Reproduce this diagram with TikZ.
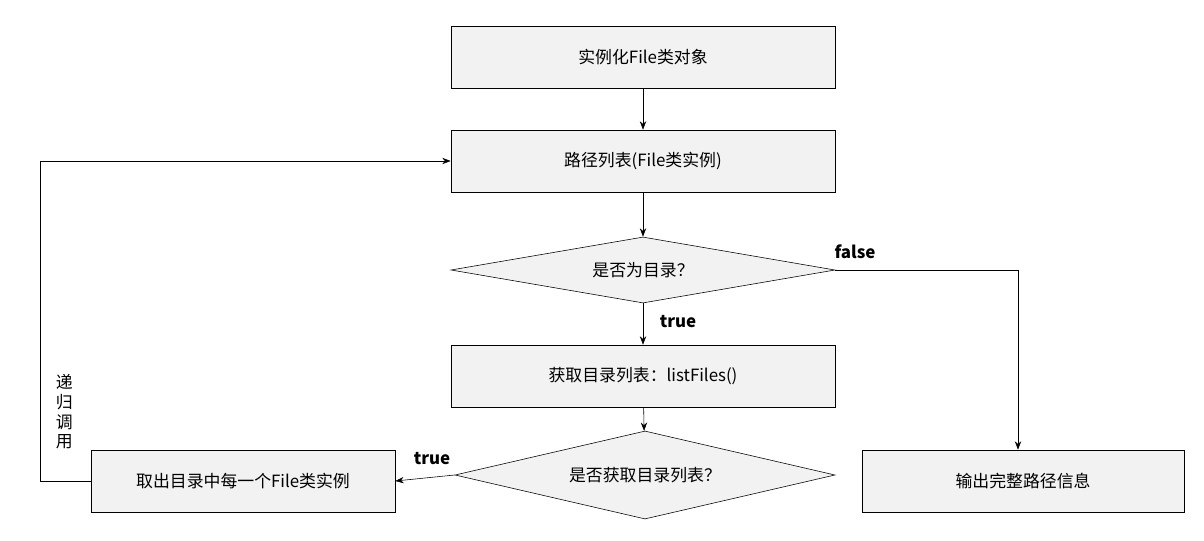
\documentclass[tikz,border=0pt]{standalone}
\usepackage{fontspec}
\setmainfont{Noto Sans CJK SC}
\usetikzlibrary{shapes.geometric,arrows.meta}
\definecolor{boxfill}{HTML}{F2F2F2}
\tikzset{
    proc/.style={draw, fill=boxfill, minimum height=1.55cm, font=\large},
    test/.style={draw, fill=boxfill, diamond, aspect=6, inner sep=0pt, font=\large},
    flow/.style={-{Stealth[length=6pt]}},
    tag/.style={font=\large\bfseries}
}
\begin{document}
\begin{tikzpicture}[x=0.025cm, y=-0.025cm]
    \useasboundingbox (0,0) rectangle (1204,540);
    \node[proc, minimum width=9.6cm] (new) at (643,57) {实例化File类对象};
    \node[proc, minimum width=9.6cm] (path) at (643,161) {路径列表(File类实例)};
    \node[test, minimum width=9.6cm, minimum height=1.65cm] (isdir) at (643,270) {是否为目录？};
    \node[proc, minimum width=9.6cm] (list) at (643,376) {获取目录列表：listFiles()};
    \node[test, minimum width=9.5cm, minimum height=2.2cm] (haslist) at (645,475) {是否获取目录列表？};
    \node[proc, minimum width=7.6cm] (each) at (243,481) {取出目录中每一个File类实例};
    \node[proc, minimum width=8.05cm] (out) at (1023,481) {输出完整路径信息};
    \coordinate (loopbot) at (40,481);
    \coordinate (looptop) at (40,161);
    \coordinate (turn) at (1018,270);
    % connectors
    \draw[flow] (new) -- (path);
    \draw[flow] (path) -- (isdir);
    \draw[flow] (isdir) -- (list);
    \draw[flow] (list) -- (haslist);
    \draw[flow] (haslist.west) -- (each.east);
    \draw[flow] (isdir.east) -- (turn) -- (out.north -| turn);
    \draw[flow] (each.west) -- (loopbot) -- (looptop) -- (path.west);
    % labels
    \node[tag] (t1) at (678,322) {true};
    \node[tag] (t2) at (432,459) {true};
    \node[tag] (f1) at (855,252) {false};
    \node[font=\large, align=center, inner sep=0pt, text width=1em] (rec) at (63,412) {递\\归\\调\\用};
\end{tikzpicture}
\end{document}
